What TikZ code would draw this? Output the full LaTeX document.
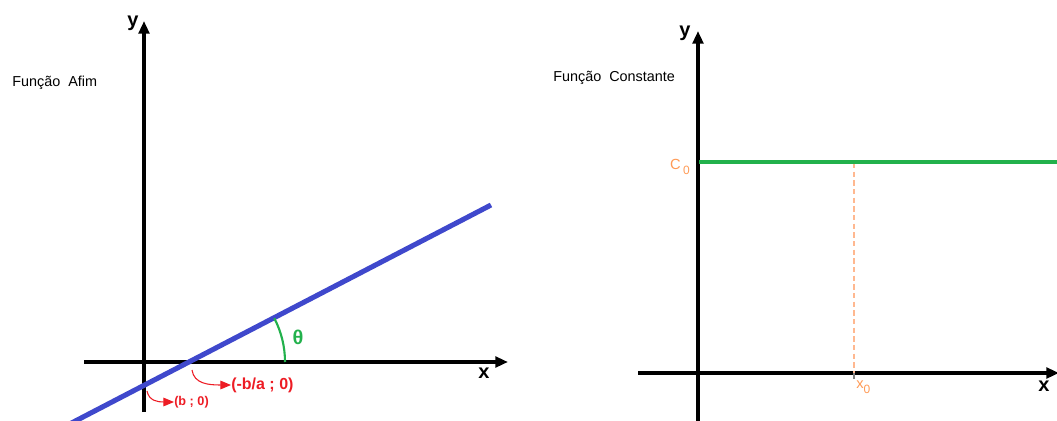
\documentclass[tikz,border=0pt]{standalone}
\usepackage{fontspec}
\setmainfont{Liberation Sans}
\usetikzlibrary{arrows.meta,positioning,calc}
\definecolor{afimblue}{HTML}{3F48CC}
\definecolor{afimred}{HTML}{ED1C24}
\definecolor{afimgreen}{HTML}{22B14C}
\definecolor{constorange}{HTML}{FF9A55}
\definecolor{constdash}{HTML}{FFB890}
\newcommand{\indice}[1]{\raisebox{-4pt}{\fontsize{9}{9}\selectfont #1}}

\begin{document}
\begin{tikzpicture}[x=0.75pt,y=-0.75pt,
  axis/.style={line width=3pt,-{Triangle[length=9.5pt,width=8pt]}},
  axlbl/.style={font=\fontsize{15}{15}\selectfont\bfseries,inner sep=0pt},
  title/.style={font=\fontsize{10.8}{12}\selectfont,anchor=west,inner sep=0pt},
  reta/.style={afimblue,line width=3.8pt},
  seta/.style={afimred,line width=0.8pt,-{Triangle[length=8pt,width=6.5pt]}},
  ponto/.style={afimred,anchor=west,inner sep=0pt},
  arco/.style={afimgreen,line width=1.6pt},
  const/.style={afimgreen,line width=2.4pt},
  guia/.style={constdash,line width=0.9pt,dash pattern=on 4pt off 2.5pt},
  marca/.style={constorange,font=\fontsize{11}{12}\selectfont,inner sep=0pt}]
  \useasboundingbox (0,0) rectangle (1057,421);
  \clip (0,0) rectangle (1057,421);
  % -- funcao afim: axes
  \coordinate (ay0) at (144,412);  \coordinate (ay1) at (144,21);
  \coordinate (ax0) at (84,362);   \coordinate (ax1) at (508,362);
  \draw[axis] (ay0) -- (ay1);
  \draw[axis] (ax0) -- (ax1);
  \node[axlbl] (ylblA) at (133,23) {y};
  \node[axlbl] (xlblA) at (484,373) {x};
  \node[title] (tA) at (12,83) {Função \ Afim};
  % -- the line, its roots and the angle
  \coordinate (lo) at (60,429);
  \coordinate (hi) at (491,205);
  \coordinate (raiz) at (190,362);
  \coordinate (corte) at (144,386);
  \draw[reta] (lo) -- (hi);
  \draw[arco] ($(raiz)+(95,0)$) arc[start angle=0,end angle=27.5,radius=71.25pt];
  \node[afimgreen,font=\fontsize{15}{15}\selectfont\bfseries,inner sep=0pt] (theta) at (298,337) {θ};
  \node[ponto,font=\fontsize{12}{12}\selectfont\bfseries] (raizlbl) at (231,385) {(-b/a ; 0)};
  \node[ponto,font=\fontsize{9.5}{10}\selectfont\bfseries] (cortelbl) at (174,402) {(b ; 0)};
  \draw[seta] ([shift={(2,8)}]raiz) .. controls +(2,14) and +(-22,0) .. (raizlbl.west);
  \draw[seta] ([shift={(3,5)}]corte) .. controls +(2,10) and +(-16,0) .. (cortelbl.west);
  % -- funcao constante: axes
  \coordinate (by0) at (698,425);  \coordinate (by1) at (698,31);
  \coordinate (bx0) at (638,373);  \coordinate (bx1) at (1059,373);
  \draw[axis] (by0) -- (by1);
  \draw[axis] (bx0) -- (bx1);
  \node[axlbl] (ylblB) at (685,33) {y};
  \node[axlbl] (xlblB) at (1044,386) {x};
  \node[title] (tB) at (553,78) {Função \ Constante};
  % -- constant value and its guide
  \coordinate (c0) at (699,162);   \coordinate (c1) at (1060,162);
  \coordinate (g0) at (854,163);   \coordinate (g1) at (854,373);
  \coordinate (g2) at (854,379);
  \draw[guia] (g0) -- (g1);
  \draw[gray,line width=0.8pt] (g1) -- (g2);
  \draw[const] (c0) -- (c1);
  \node[marca,anchor=base east] (c0lbl) at (690,169) {C\,\indice{0}};
  \node[marca,anchor=base west] (x0lbl) at (856,388) {x\indice{0}};
\end{tikzpicture}
\end{document}
